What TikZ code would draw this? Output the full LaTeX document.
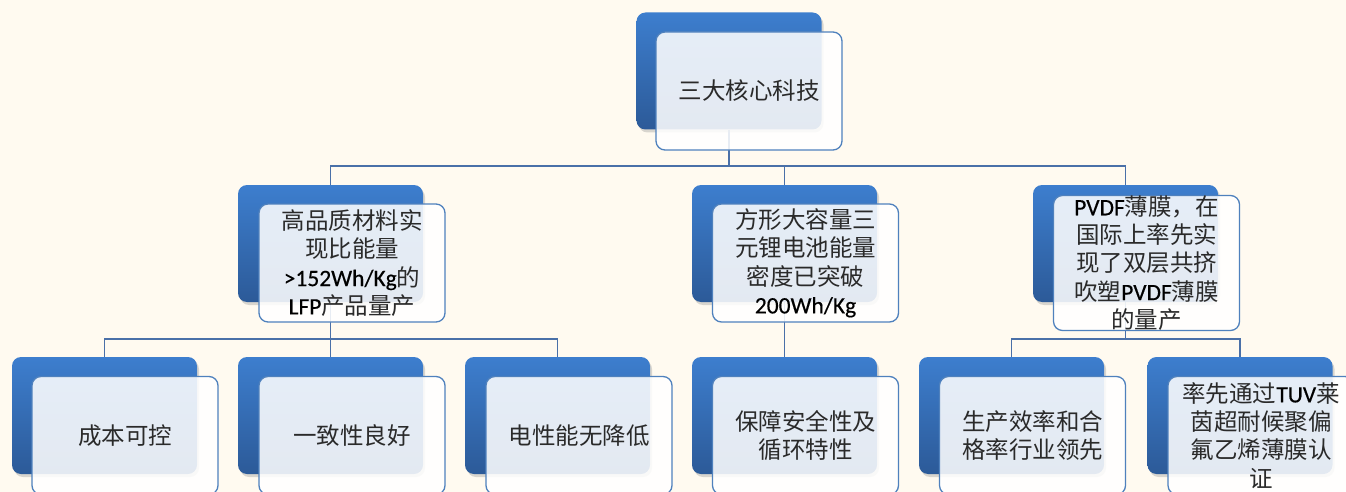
\documentclass[tikz,border=0pt]{standalone}
\usepackage{fontspec}
\setmainfont{Noto Sans CJK SC}
\newfontfamily\lat[FakeBold=0.4]{Carlito}
\newcommand\latn[1]{{\lat\color{black}#1}}
\usetikzlibrary{shadows,calc}
\definecolor{bgc}{HTML}{FFFAF0}
\definecolor{bluetop}{HTML}{3D7ECE}
\definecolor{bluebot}{HTML}{2C5A98}
\definecolor{frontline}{HTML}{4F81BD}
\definecolor{connc}{HTML}{4A70A8}
\definecolor{txt}{HTML}{2A2A2A}
\pgfdeclarelayer{back}
\pgfsetlayers{back,main}
\tikzset{
  bluebox/.style={rectangle, rounded corners=9pt, minimum width=185pt, minimum height=117pt,
    inner sep=0pt, top color=bluetop, bottom color=bluebot, draw=none,
    drop shadow={shadow xshift=2pt, shadow yshift=-3pt, opacity=0.3}},
  frontbox/.style={rectangle, rounded corners=9pt, minimum width=186pt, minimum height=118pt,
    inner sep=0pt, draw=frontline, line width=1.3pt, fill=white, fill opacity=0.87,
    text opacity=1, text=txt, align=center, font=\fontsize{23.5}{28.3}\selectfont},
  conn/.style={draw=connc, line width=1.6pt}
}
\begin{document}
\begin{tikzpicture}[x=1pt,y=-1pt]
\useasboundingbox (0,0) rectangle (1346,492);
\clip (0,0) rectangle (1346,492);
\begin{pgfonlayer}{back}
\fill[bgc] (0,0) rectangle (1346,492);
\end{pgfonlayer}
% top
\node[bluebox] (tb) at (729,71) {};
\node[frontbox] (tf) at (749,91) {三大核心科技};
% level 2
\node[bluebox] (n1b) at (330.5,243.5) {};
\node[frontbox] (n1f) at (352,263) {高品质材料实\\现比能量\\\latn{>152Wh/Kg}的\\\latn{LFP}产品量产};
\node[bluebox] (n2b) at (784.5,243.5) {};
\node[frontbox] (n2f) at (805.5,263) {方形大容量三\\元锂电池能量\\密度已突破\\\latn{200Wh/Kg}};
\node[bluebox] (n3b) at (1125.5,243.5) {};
\node[frontbox] (n3f) at (1146.5,263) {\latn{PVDF}薄膜，在\\国际上率先实\\现了双层共挤\\吹塑\latn{PVDF}薄膜\\的量产};
% level 3
\node[bluebox] (ab) at (104.5,415.5) {};
\node[frontbox] (af) at (125,435.5) {成本可控};
\node[bluebox] (bb) at (330.5,415.5) {};
\node[frontbox] (bf) at (352,435.5) {一致性良好};
\node[bluebox] (cb) at (557.5,415.5) {};
\node[frontbox] (cf) at (579,435.5) {电性能无降低};
\node[bluebox] (db) at (784.5,415.5) {};
\node[frontbox] (df) at (805.5,435.5) {保障安全性及\\循环特性};
\node[bluebox] (eb) at (1011.5,415.5) {};
\node[frontbox] (ef) at (1032.5,435.5) {生产效率和合\\格率行业领先};
\node[bluebox] (fb) at (1240,415.5) {};
\node[frontbox] (ff) at (1261,435.5) {率先通过\latn{TUV}莱\\茵超耐候聚偏\\氟乙烯薄膜认\\证};
% connectors
\begin{pgfonlayer}{back}
\coordinate (bus0) at ($(tb.south)+(0,36)$);
\draw[conn] (tb.south) -- (bus0);
\draw[conn] (n1b.north) |- (bus0) -| (n3b.north);
\draw[conn] (n2b.north) -- (n2b.north |- bus0);
\coordinate (bus1) at ($(n1b.south)+(0,37)$);
\draw[conn] (n1b.south) -- (bus1);
\draw[conn] (ab.north) |- (bus1) -| (cb.north);
\draw[conn] (bb.north) -- (bb.north |- bus1);
\draw[conn] (n2b.south) -- (db.north);
\coordinate (bus3) at ($(n3b.south)+(0,37)$);
\draw[conn] (n3b.south) -- (bus3);
\draw[conn] (eb.north) |- (bus3) -| (fb.north);
\end{pgfonlayer}
\end{tikzpicture}
\end{document}
